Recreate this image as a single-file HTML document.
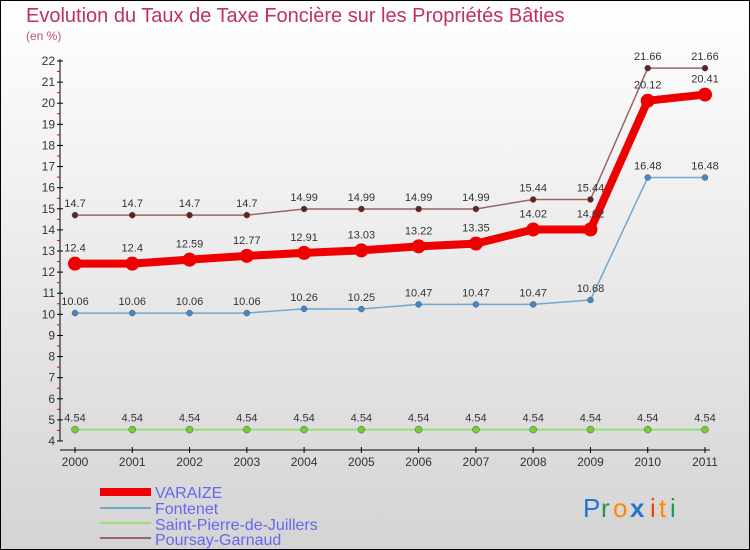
<!DOCTYPE html>
<html><head><meta charset="utf-8"><style>
body{margin:0}
#wrap{width:750px;height:550px;position:relative;overflow:hidden}
svg text{font-family:"Liberation Sans",sans-serif}
</style></head><body>
<div id="wrap">
<svg id="chart" width="750" height="550" viewBox="0 0 750 550">
<defs><linearGradient id="bg" x1="0" y1="0" x2="0" y2="1"><stop offset="0" stop-color="#ffffff"/><stop offset="1" stop-color="#d4d4d4"/></linearGradient></defs>
<rect x="0.5" y="0.5" width="749" height="549" fill="url(#bg)" stroke="#000"/>
<text x="26" y="22" font-size="20" fill="#c03060">Evolution du Taux de Taxe Foncière sur les Propriétés Bâties</text>
<text x="26" y="40" font-size="12" fill="#c05080">(en %)</text>
<g id="axes"></g><g id="series"></g>
<g>
<rect x="100" y="488" width="51" height="8" fill="#ee0000"/>
<text x="155" y="498" font-size="16" fill="#6666ee">VARAIZE</text>
<rect x="100" y="507" width="51" height="2" fill="#6fa8d0"/>
<text x="155" y="514" font-size="16" fill="#6666ee">Fontenet</text>
<rect x="100" y="522" width="51" height="2" fill="#99dd77"/>
<text x="155" y="530" font-size="16" fill="#6666ee">Saint-Pierre-de-Juillers</text>
<rect x="100" y="537" width="51" height="2" fill="#996666"/>
<text x="155" y="545" font-size="16" fill="#6666ee">Poursay-Garnaud</text>
</g>
<g font-size="26">
<text x="583" y="517" fill="#2277cc">P</text><text x="601" y="517" fill="#229944">r</text><text x="613" y="517" fill="#ff8800">o</text><text x="630" y="517" fill="#2277cc" font-weight="bold">x</text><text x="650" y="517" fill="#ee4400">i</text><text x="659" y="517" fill="#ff8800">t</text><text x="670" y="517" fill="#229944">i</text>
</g>
</svg></div>
<script>
const years=[2000,2001,2002,2003,2004,2005,2006,2007,2008,2009,2010,2011];
const varaize=[12.4,12.4,12.59,12.77,12.91,13.03,13.22,13.35,14.02,14.02,20.12,20.41];
const fontenet=[10.06,10.06,10.06,10.06,10.26,10.25,10.47,10.47,10.47,10.68,16.48,16.48];
const saintPierre=[4.54,4.54,4.54,4.54,4.54,4.54,4.54,4.54,4.54,4.54,4.54,4.54];
const poursay=[14.7,14.7,14.7,14.7,14.99,14.99,14.99,14.99,15.44,15.44,21.66,21.66];
const yTicks=[4,5,6,7,8,9,10,11,12,13,14,15,16,17,18,19,20,21,22];
const NS="http://www.w3.org/2000/svg";
const xS=i=>75+i*(630/11);
const yS=v=>441-(v-4)*(380/18);
function mk(t,a,p){const e=document.createElementNS(NS,t);for(const k in a)e.setAttribute(k,a[k]);p.appendChild(e);return e;}
const ax=document.getElementById('axes');
let e=mk('line',{x1:60,y1:yS(22)-2,x2:60,y2:yS(4),stroke:'#000'},ax);

e=mk('line',{x1:60,y1:450,x2:710,y2:450,stroke:'#000'},ax);

yTicks.forEach(v=>{mk('line',{x1:57,x2:63,y1:yS(v),y2:yS(v),stroke:'#000'},ax);
 if(v<22)mk('line',{x1:57,x2:60,y1:yS(v+0.5),y2:yS(v+0.5),stroke:'#e00'},ax);
 const t=mk('text',{x:55,y:yS(v)+4,'text-anchor':'end','font-size':12,fill:'#333'},ax);t.textContent=v;
 });
years.forEach((y,i)=>{mk('line',{x1:xS(i),x2:xS(i),y1:447,y2:453,stroke:'#000'},ax);
 const t=mk('text',{x:xS(i),y:466,'text-anchor':'middle','font-size':12,fill:'#333'},ax);t.textContent=y;
 });
const sg=document.getElementById('series');
function series(d,name,col,w,r,dot){
 const g=mk('g',{},sg);
 const pl=mk('polyline',{points:d.map((v,i)=>xS(i)+','+yS(v)).join(' '),fill:'none',stroke:col,'stroke-width':w,'stroke-linejoin':'round'},g);
 
 d.forEach((v,i)=>{const c=mk('circle',{cx:xS(i),cy:yS(v),r:r,fill:dot,stroke:w>3?'none':'#555','stroke-width':0.5},g);
  
  const t=mk('text',{x:xS(i),y:yS(v)-(w>3?12:8),'text-anchor':'middle','font-size':11,fill:'#333'},g);t.textContent=v;
  });
}
series(saintPierre,'saint-pierre','#99dd77',2,3.5,'#77cc33');
series(fontenet,'fontenet','#6fa8d0',1.5,3,'#4488cc');
series(poursay,'poursay','#996666',1.5,3,'#662222');
series(varaize,'varaize','#ee0000',8,7,'#ee0000');
</script>
</body></html>
